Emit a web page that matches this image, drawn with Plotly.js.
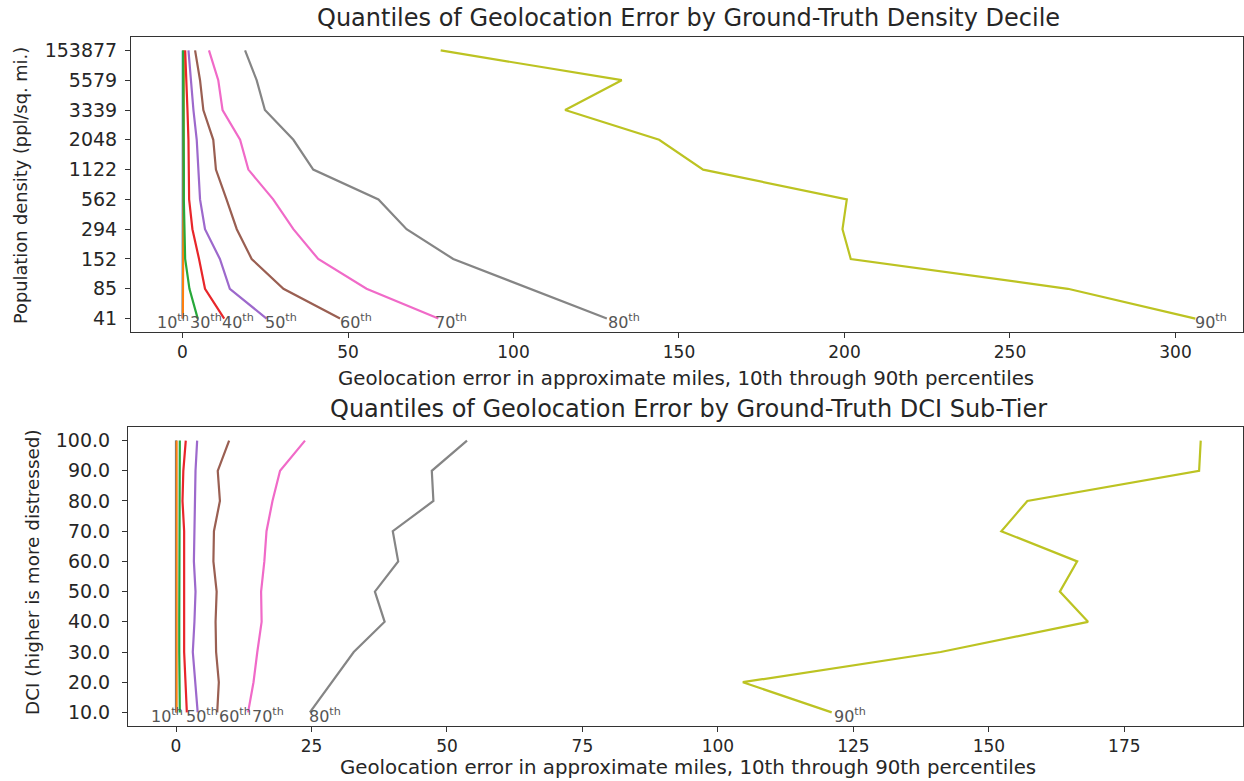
<!DOCTYPE html>
<html><head><meta charset="utf-8">
<script src="https://cdn.plot.ly/plotly-3.0.1.min.js"></script>
<style>html,body{margin:0;padding:0;background:#fff}</style>
</head><body><div id="chart" style="width:1244px;height:781px"></div>
<script>
// ---------- data ----------
const percentiles = ["10th","20th","30th","40th","50th","60th","70th","80th","90th"];

// Top panel: population density deciles (bottom -> top)
const densityCats = ["41","85","152","294","562","1122","2048","3339","5579","153877"];
const dens_p10 = [0.05,0.1,0.1,0.1,0.1,0.1,0.1,0.1,0.1,0.1];
const dens_p20 = [0.1,0.2,0.2,0.2,0.3,0.3,0.3,0.3,0.3,0.4];
const dens_p30 = [4.6,2.1,0.8,0.5,0.4,0.4,0.3,0.3,0.3,0.2];
const dens_p40 = [12.6,6.8,5.0,3.0,2.0,2.0,1.8,1.5,1.1,0.8];
const dens_p50 = [25.4,14.3,11.3,6.8,5.3,4.8,4.3,3.3,2.6,1.8];
const dens_p60 = [47.6,30.5,20.9,16.4,13.3,10.1,9.3,6.3,5.3,3.8];
const dens_p70 = [77.3,55.6,41.0,33.5,27.4,19.9,17.4,12.1,10.8,8.0];
const dens_p80 = [128.2,105.0,81.8,67.7,59.2,39.5,33.5,24.9,22.4,18.9];
const dens_p90 = [306.0,267.5,201.9,199.4,200.7,157.3,144.0,115.6,132.7,78.0];

// Bottom panel: DCI sub-tiers (bottom -> top)
const dciCats = ["10.0","20.0","30.0","40.0","50.0","60.0","70.0","80.0","90.0","100.0"];
const dci_p10 = [0.0,0.0,0.0,0.0,0.0,0.0,0.0,0.0,0.0,0.0];
const dci_p20 = [0.1,0.1,0.1,0.1,0.1,0.1,0.1,0.1,0.1,0.1];
const dci_p30 = [0.7,0.6,0.6,0.6,0.6,0.6,0.6,0.6,0.6,0.7];
const dci_p40 = [2.0,1.7,1.5,1.5,1.5,1.5,1.5,1.2,1.35,1.8];
const dci_p50 = [4.0,3.6,3.1,3.4,3.6,3.3,3.4,3.5,3.6,3.9];
const dci_p60 = [7.6,7.9,7.4,7.3,7.5,6.9,7.0,8.1,7.7,9.8];
const dci_p70 = [13.3,14.3,15.0,15.8,15.7,16.3,16.7,17.8,19.2,23.8];
const dci_p80 = [24.7,28.7,32.8,38.5,36.7,41.0,40.0,47.5,47.2,53.7];
const dci_p90 = [121.0,104.6,141.1,168.3,163.1,166.3,152.3,157.1,188.8,189.1];

// which percentile labels are shown on each panel
const densLabelIdx = [0,2,3,4,5,6,7,8];
const dciLabelIdx = [0,4,5,6,7,8];

const titleTop = "Quantiles of Geolocation Error by Ground-Truth Density Decile";
const titleBottom = "Quantiles of Geolocation Error by Ground-Truth DCI Sub-Tier";
const xTitle = "Geolocation error in approximate miles, 10th through 90th percentiles";
const yTitleTop = "Population density (ppl/sq. mi.)";
const yTitleBottom = "DCI (higher is more distressed)";

// ---------- styling ----------
const colors = ["#1f77b4","#ff7f0e","#27a83a","#e8262a","#9d69cc","#9a5f52","#f06ac8","#858585","#bcc322"];
const densLabelShift = [-28,0,-10,-4,-4,-2,-5,-1,-2];
const dciLabelShift = [-27,0,0,0,-14,0,2,-3,0];
const FONT = "DejaVu Sans, sans-serif";
const TXT = "#262626";
const LBL = "#555555";

const densSeries = [dens_p10,dens_p20,dens_p30,dens_p40,dens_p50,dens_p60,dens_p70,dens_p80,dens_p90];
const dciSeries = [dci_p10,dci_p20,dci_p30,dci_p40,dci_p50,dci_p60,dci_p70,dci_p80,dci_p90];

const W = 1244, H = 781;
const px = x => x / W;
const py = y => (H - y) / H;

const traces = [];
densSeries.forEach((s, i) => traces.push({
  type: "scatter", mode: "lines", x: s, y: densityCats, xaxis: "x", yaxis: "y",
  line: {color: colors[i], width: 2.2}, name: percentiles[i]
}));
dciSeries.forEach((s, i) => traces.push({
  type: "scatter", mode: "lines", x: s, y: dciCats, xaxis: "x2", yaxis: "y2",
  line: {color: colors[i], width: 2.2}, name: percentiles[i]
}));

const annotations = [];
const pctLabel = p => p.replace("th", '<sup><span style="color:' + LBL + '">th</span></sup>');
densLabelIdx.forEach(i => annotations.push({
  xref: "x", yref: "y", x: densSeries[i][0], y: 0, text: pctLabel(percentiles[i]),
  showarrow: false, xanchor: "left", yanchor: "middle", xshift: densLabelShift[i], yshift: -3,
  font: {family: FONT, size: 16, color: LBL}
}));
dciLabelIdx.forEach(i => annotations.push({
  xref: "x2", yref: "y2", x: dciSeries[i][0], y: 0, text: pctLabel(percentiles[i]),
  showarrow: false, xanchor: "left", yanchor: "middle", xshift: dciLabelShift[i], yshift: -3,
  font: {family: FONT, size: 16, color: LBL}
}));
const textAnn = (text, x, y, size, angle) => ({
  xref: "paper", yref: "paper", x: px(x), y: py(y), text: text, showarrow: false,
  xanchor: "center", yanchor: "middle", textangle: angle || 0,
  font: {family: FONT, size: size, color: TXT}
});
annotations.push(textAnn(titleTop, 688, 18, 24));
annotations.push(textAnn(titleBottom, 688, 409, 24));
annotations.push(textAnn(xTitle, 686, 378, 19.8));
annotations.push(textAnn(xTitle, 688, 767, 19.8));
annotations.push(textAnn(yTitleTop, 20, 186, 17.8, -90));
annotations.push(textAnn(yTitleBottom, 32, 572, 18.4, -90));

const axBase = {
  showgrid: false, zeroline: false, showline: true, mirror: true, linecolor: "#333333", linewidth: 1,
  ticks: "outside", ticklen: 5, tickwidth: 1, tickcolor: "#333333",
  tickfont: {family: FONT, size: 17, color: TXT}, automargin: false, fixedrange: true
};
const yTickFont = {family: FONT, size: 19, color: TXT};

const layout = {
  width: W, height: H, margin: {l: 0, r: 0, t: 0, b: 0},
  paper_bgcolor: "#ffffff", plot_bgcolor: "#ffffff", showlegend: false, hovermode: false,
  xaxis: Object.assign({}, axBase, {domain: [px(131), px(1243)], range: [-15.56, 320.4],
    tickmode: "linear", tick0: 0, dtick: 50, anchor: "y"}),
  yaxis: Object.assign({}, axBase, {domain: [py(332), py(37)], type: "category",
    categoryorder: "array", categoryarray: densityCats, range: [-0.45, 9.45], anchor: "x",
    tickfont: yTickFont, ticklabelstandoff: 4}),
  xaxis2: Object.assign({}, axBase, {domain: [px(128), px(1243)], range: [-8.86, 196.9],
    tickmode: "linear", tick0: 0, dtick: 25, anchor: "y2"}),
  yaxis2: Object.assign({}, axBase, {domain: [py(726), py(427)], type: "category",
    categoryorder: "array", categoryarray: dciCats, range: [-0.45, 9.45], anchor: "x2",
    tickfont: yTickFont, ticklabelstandoff: 8}),
  annotations: annotations
};

Plotly.newPlot("chart", traces, layout, {staticPlot: true, displayModeBar: false});
</script></body></html>
